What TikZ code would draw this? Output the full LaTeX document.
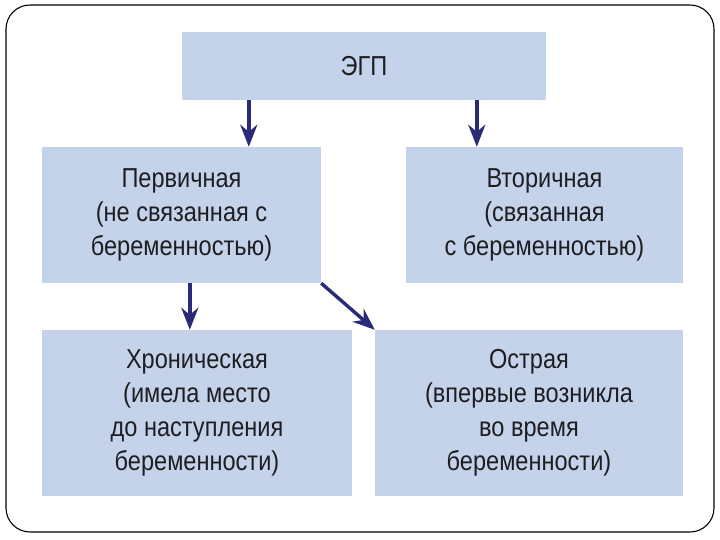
\documentclass[tikz,border=0pt]{standalone}
\usepackage{fontspec}
\setmainfont{Liberation Sans}[FakeStretch=0.86]
\usetikzlibrary{arrows.meta}
\definecolor{boxblue}{HTML}{C5D3EA}
\definecolor{arrnavy}{HTML}{2A2A78}
\definecolor{txtgray}{HTML}{1E1E22}

\begin{document}
\begin{tikzpicture}[x=1bp,y=-1bp,
  blk/.style={fill=boxblue, draw=none, align=center, inner sep=0pt,
    text=txtgray, font=\fontsize{27.5}{34}\selectfont},
  arr/.style={arrnavy, line width=3.4bp, -{Stealth[length=22bp, width=17bp, inset=7bp]}}]
\useasboundingbox (0,0) rectangle (720,540);
\draw[black, line width=1.1bp, rounded corners=24bp] (6,5) rectangle (714,532);
\node[blk, minimum width=364bp, minimum height=68bp] (egp) at (364,66) {ЭГП};
\node[blk, minimum width=279bp, minimum height=136bp] (perv) at (181.5,215)
  {Первичная\\(не связанная с\\беременностью)};
\node[blk, minimum width=277bp, minimum height=136bp] (vtor) at (544.5,215)
  {Вторичная\\(связанная\\с беременностью)};
\node[blk, minimum width=310bp, minimum height=166bp] (hron) at (197,413)
  {Хроническая\\(имела место\\до наступления\\беременности)};
\node[blk, minimum width=308bp, minimum height=166bp] (ostr) at (529,413)
  {Острая\\(впервые возникла\\во время\\беременности)};
\draw[arr] ([xshift=67bp]egp.south west) -- ([xshift=67bp]egp.south west |- perv.north);
\draw[arr] ([xshift=295bp]egp.south west) -- ([xshift=295bp]egp.south west |- vtor.north);
\draw[arr] ([xshift=148bp]perv.south west) -- ([xshift=148bp]perv.south west |- hron.north);
\draw[arr] (perv.south east) -- (ostr.north west);
\end{tikzpicture}
\end{document}
